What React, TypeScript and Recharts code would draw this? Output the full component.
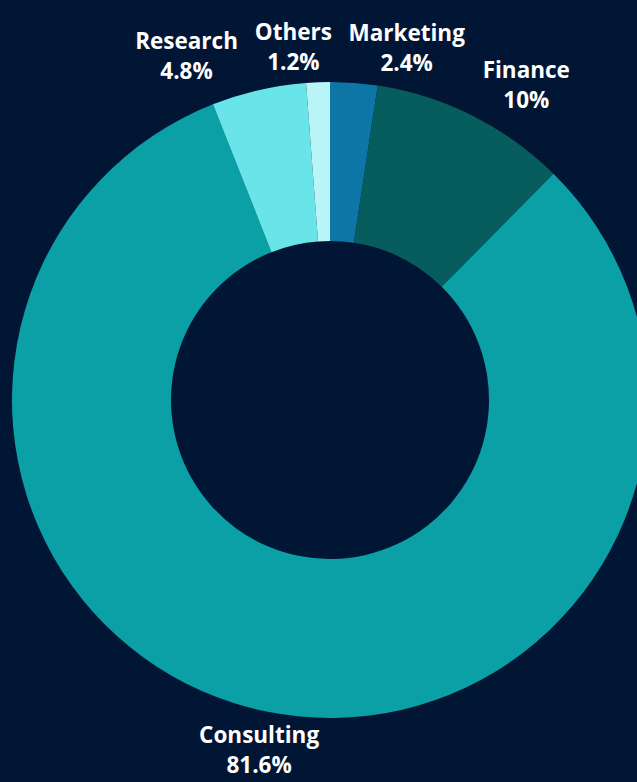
import { PieChart, Pie, Cell } from "recharts";

const categories = ["Marketing", "Finance", "Consulting", "Research", "Others"];
const shares = [2.4, 10, 81.6, 4.8, 1.2];
const COLORS = ["#0e76a6", "#075d5e", "#0aa0a6", "#69e4e8", "#b9f5f7"];

const data = categories.map((name, i) => ({ name, value: shares[i] }));

const W = 637;
const H = 782;
const CX = 330;
const CY = 400;
const INNER = 159;
const OUTER = 318;
const LABEL_R = 355;
const FONT = 22.5;
const CHAR_W = 12.7;
const GAP = 18;

const RAD = Math.PI / 180;

// place labels at mid angle, then spread overlapping ones in the top row
function layoutLabels() {
  const total = shares.reduce((a, b) => a + b, 0);
  let acc = 0;
  const pos = shares.map((v, i) => {
    const mid = 90 - ((acc + v / 2) / total) * 360;
    acc += v;
    return {
      i,
      x: CX + LABEL_R * Math.cos(mid * RAD),
      y: CY - LABEL_R * Math.sin(mid * RAD),
      w: categories[i].length * CHAR_W,
    };
  });
  const top = pos.filter((p) => p.y < CY).sort((a, b) => a.x - b.x);
  // merge overlapping neighbours into groups and centre each group on its mean
  let groups = top.map((p) => [p]);
  let changed = true;
  const place = (g: typeof top) => {
    const offs: number[] = [0];
    for (let k = 1; k < g.length; k++) {
      offs.push(offs[k - 1] + (g[k - 1].w + g[k].w) / 2 + GAP);
    }
    const base = g.reduce((s, p, k) => s + p.x - offs[k], 0) / g.length;
    return g.map((_, k) => base + offs[k]);
  };
  const xs = new Map<number, number>();
  top.forEach((p) => xs.set(p.i, p.x));
  while (changed) {
    changed = false;
    for (let k = 0; k < groups.length - 1; k++) {
      const a = groups[k];
      const b = groups[k + 1];
      const la = a[a.length - 1];
      const fb = b[0];
      if (xs.get(la.i)! + la.w / 2 + GAP > xs.get(fb.i)! - fb.w / 2) {
        const merged = [...a, ...b];
        const placed = place(merged);
        merged.forEach((p, j) => xs.set(p.i, placed[j]));
        groups.splice(k, 2, merged);
        changed = true;
        break;
      }
    }
  }
  return pos.map((p) => ({ x: xs.has(p.i) ? xs.get(p.i)! : p.x, y: p.y }));
}

const labelPos = layoutLabels();

const fmt = (v: number) => `${Number(v.toFixed(1))}%`;

const renderLabel = (props: any) => {
  const { index } = props;
  const p = labelPos[index];
  return (
    <text
      x={p.x}
      y={p.y}
      textAnchor="middle"
      fill="#ffffff"
      fontFamily="'Open Sans', sans-serif"
      fontWeight={700}
      fontSize={FONT}
    >
      <tspan x={p.x} dy={-5}>
        {categories[index]}
      </tspan>
      <tspan x={p.x} dy={30}>
        {fmt(shares[index])}
      </tspan>
    </text>
  );
};

export default function App() {
  return (
    <div
      style={{
        position: "fixed",
        left: 0,
        top: 0,
        width: W,
        height: H,
        background: "#011635",
      }}
    >
      <PieChart
        width={W}
        height={H}
        margin={{ top: 0, right: 0, bottom: 0, left: 0 }}
      >
        <Pie
          data={data}
          dataKey="value"
          nameKey="name"
          cx={CX}
          cy={CY}
          innerRadius={INNER}
          outerRadius={OUTER}
          startAngle={90}
          endAngle={-270}
          stroke="none"
          labelLine={false}
          label={renderLabel}
          isAnimationActive={false}
        >
          {data.map((d, i) => (
            <Cell key={d.name} fill={COLORS[i]} />
          ))}
        </Pie>
      </PieChart>
    </div>
  );
}
